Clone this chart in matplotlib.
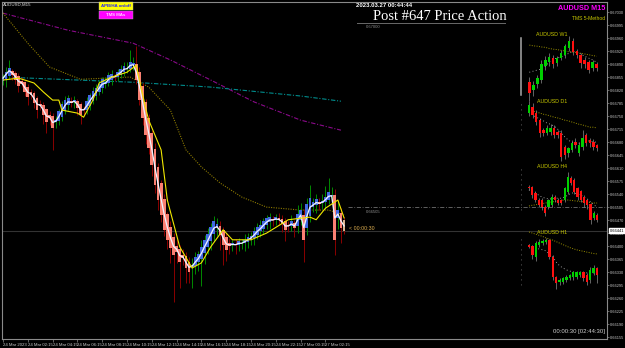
import numpy as np
import pandas as pd
import matplotlib
matplotlib.use("Agg")
import matplotlib.pyplot as plt
from matplotlib.patches import Rectangle
import matplotlib.transforms as mtransforms

# ---------------- main AUDUSD M15 data ----------------
first_open = 0.66845
close = [0.66852, 0.66868, 0.66879, 0.66860, 0.66847, 0.66831, 0.66836, 0.66815, 0.66801, 0.66806,
         0.66785, 0.66766, 0.66777, 0.66753, 0.66734, 0.66745, 0.66718, 0.66739, 0.66761, 0.66780,
         0.66793, 0.66798, 0.66785, 0.66793, 0.66772, 0.66753, 0.66766, 0.66788, 0.66804, 0.66815,
         0.66825, 0.66836, 0.66847, 0.66841, 0.66858, 0.66863, 0.66855, 0.66868, 0.66874, 0.66884,
         0.66879, 0.66895, 0.66890, 0.66847, 0.66793, 0.66745, 0.66699, 0.66664, 0.66618, 0.66564,
         0.66524, 0.66484, 0.66444, 0.66416, 0.66395, 0.66376, 0.66384, 0.66357, 0.66368, 0.66341,
         0.66330, 0.66349, 0.66368, 0.66376, 0.66395, 0.66416, 0.66430, 0.66449, 0.66465, 0.66457,
         0.66430, 0.66403, 0.66390, 0.66400, 0.66406, 0.66403, 0.66411, 0.66408, 0.66416, 0.66422,
         0.66427, 0.66438, 0.66449, 0.66454, 0.66465, 0.66473, 0.66476, 0.66470, 0.66476, 0.66470,
         0.66459, 0.66443, 0.66454, 0.66465, 0.66449, 0.66486, 0.66497, 0.66416, 0.66511, 0.66529,
         0.66516, 0.66524, 0.66513, 0.66521, 0.66532, 0.66543, 0.66537, 0.66416, 0.66497, 0.66449,
         0.66441]
wick_up_pts = [10, 14, 22, 8, 6, 10, 12, 6, 8, 10,
               8, 6, 12, 8, 6, 14, 10, 12, 8, 10,
               12, 8, 14, 10, 6, 8, 10, 12, 8, 14,
               10, 12, 8, 14, 10, 12, 8, 10, 14, 12,
               16, 32, 20, 50, 14, 10, 8, 12, 10, 16,
               12, 10, 14, 8, 16, 12, 20, 10, 18, 12,
               14, 20, 16, 12, 22, 14, 18, 12, 16, 20,
               14, 10, 12, 16, 10, 14, 12, 10, 16, 12,
               10, 14, 12, 16, 12, 10, 14, 12, 10, 16,
               12, 10, 14, 18, 12, 24, 20, 16, 18, 36,
               14, 16, 12, 18, 30, 40, 22, 18, 24, 16, 10]
wick_dn_pts = [12, 20, 8, 14, 10, 16, 8, 12, 20, 10,
               14, 20, 10, 24, 30, 18, 60, 14, 10, 12,
               8, 12, 10, 16, 20, 24, 14, 10, 12, 8,
               10, 8, 12, 10, 8, 14, 10, 12, 8, 10,
               10, 8, 12, 10, 14, 20, 24, 16, 30, 20,
               26, 20, 18, 24, 40, 126, 30, 70, 20, 40,
               30, 56, 20, 24, 75, 30, 20, 24, 18, 20,
               40, 54, 30, 20, 16, 24, 18, 14, 20, 16,
               14, 20, 12, 16, 14, 10, 18, 16, 12, 14,
               20, 30, 16, 14, 24, 18, 14, 60, 20, 16,
               14, 20, 16, 14, 18, 12, 16, 40, 30, 40, 8]

yellow_bars = [0, 5, 7, 10, 13, 16, 18, 19, 24, 26, 29, 31, 35, 40, 43, 44, 46, 47, 51, 53,
               57, 61, 64, 67, 71, 74, 80, 85, 92, 99, 101, 104, 108, 110]
yellow_ma = [0.66847, 0.66852, 0.66847, 0.66839, 0.66815, 0.66793, 0.66793, 0.66766, 0.66758, 0.66747,
             0.66793, 0.66839, 0.66855, 0.66868, 0.66887, 0.66847, 0.66772, 0.66739, 0.66659, 0.66524,
             0.66398, 0.66341, 0.66355, 0.66398, 0.66444, 0.66417, 0.66417, 0.66435, 0.66471, 0.66478,
             0.66471, 0.66502, 0.66524, 0.66476]
olive_bars = [0, 8, 15, 25, 33, 41, 47, 54, 59, 64, 70, 77, 85, 96, 105, 110]
olive_ma = [0.67027, 0.66946, 0.66882, 0.66849, 0.66852, 0.66855, 0.66828, 0.66766, 0.66659, 0.66613,
            0.66570, 0.66532, 0.66505, 0.66497, 0.66497, 0.66484]
purple_bars = [0, 21, 42, 54, 67, 81, 96, 109]
purple_ma = [0.67027, 0.66981, 0.66946, 0.66901, 0.66847, 0.66788, 0.66739, 0.66712]
teal_bars = [0, 42, 67, 96, 109]
teal_ma = [0.66855, 0.66841, 0.66828, 0.66804, 0.66790]

time_tick_bars = [0, 8, 16, 24, 32, 40, 48, 56, 64, 72, 80, 88, 96, 104]
time_tick_labels = ["24 Mar 2023", "24 Mar 02:15", "24 Mar 04:15", "24 Mar 06:15", "24 Mar 08:15",
                    "24 Mar 10:15", "24 Mar 12:15", "24 Mar 14:15", "24 Mar 16:15", "24 Mar 18:15",
                    "24 Mar 20:15", "24 Mar 22:15", "27 Mar 00:15", "27 Mar 02:15"]
price_ticks = [0.67030, 0.66995, 0.66960, 0.66925, 0.66890, 0.66855, 0.66820, 0.66785, 0.66750,
               0.66715, 0.66680, 0.66645, 0.66610, 0.66575, 0.66540, 0.66505, 0.66470, 0.66435,
               0.66400, 0.66365, 0.66330, 0.66295, 0.66260, 0.66225, 0.66190, 0.66155]
level_top = 0.67000
level_mid = 0.66505

# ---------------- mini charts (W1, D1, H4, H1) ----------------
w1_open = [0.66841, 0.66820, 0.66836, 0.66847, 0.66884, 0.66895, 0.66906, 0.66893, 0.66906, 0.66914,
           0.66933, 0.66952, 0.66925, 0.66914, 0.66901, 0.66895, 0.66879, 0.66890]
w1_close = [0.66812, 0.66833, 0.66852, 0.66890, 0.66901, 0.66909, 0.66890, 0.66906, 0.66919, 0.66938,
            0.66952, 0.66922, 0.66914, 0.66893, 0.66890, 0.66874, 0.66895, 0.66879]
w1_high = [0.66855, 0.66845, 0.66860, 0.66900, 0.66912, 0.66920, 0.66915, 0.66912, 0.66928, 0.66945,
           0.66965, 0.66960, 0.66930, 0.66920, 0.66908, 0.66900, 0.66900, 0.66895]
w1_low = [0.66790, 0.66805, 0.66825, 0.66838, 0.66875, 0.66885, 0.66880, 0.66885, 0.66900, 0.66905,
          0.66925, 0.66915, 0.66905, 0.66880, 0.66880, 0.66865, 0.66870, 0.66870]
w1_slow = [0.66941, 0.66939, 0.66938, 0.66936, 0.66935, 0.66932, 0.66930, 0.66929, 0.66927, 0.66925,
           0.66923, 0.66922, 0.66921, 0.66919, 0.66917, 0.66915, 0.66913, 0.66911]
w1_fast = [0.66868, 0.66871, 0.66874, 0.66876, 0.66884, 0.66895, 0.66903, 0.66906, 0.66909, 0.66914,
           0.66919, 0.66925, 0.66922, 0.66917, 0.66911, 0.66906, 0.66901, 0.66895]

d1_open = [0.66758, 0.66774, 0.66758, 0.66739, 0.66712, 0.66704, 0.66707, 0.66718, 0.66707, 0.66704,
           0.66667, 0.66650, 0.66659, 0.66680, 0.66650, 0.66667, 0.66699, 0.66685, 0.66680, 0.66672]
d1_close = [0.66780, 0.66753, 0.66734, 0.66704, 0.66704, 0.66718, 0.66718, 0.66699, 0.66699, 0.66640,
            0.66645, 0.66664, 0.66677, 0.66672, 0.66672, 0.66691, 0.66677, 0.66677, 0.66667, 0.66664]
d1_high = [0.66790, 0.66785, 0.66765, 0.66745, 0.66718, 0.66725, 0.66728, 0.66725, 0.66712, 0.66712,
           0.66672, 0.66668, 0.66685, 0.66690, 0.66680, 0.66712, 0.66705, 0.66690, 0.66688, 0.66675]
d1_low = [0.66750, 0.66745, 0.66725, 0.66695, 0.66696, 0.66698, 0.66700, 0.66690, 0.66692, 0.66630,
          0.66635, 0.66640, 0.66652, 0.66665, 0.66642, 0.66660, 0.66670, 0.66668, 0.66658, 0.66655]
d1_slow = [0.66766, 0.66763, 0.66761, 0.66758, 0.66755, 0.66753, 0.66750, 0.66747, 0.66745, 0.66742,
           0.66739, 0.66737, 0.66734, 0.66731, 0.66728, 0.66726, 0.66723, 0.66720, 0.66720, 0.66718]
d1_fast = [0.66761, 0.66753, 0.66747, 0.66742, 0.66737, 0.66731, 0.66728, 0.66723, 0.66715, 0.66704,
           0.66694, 0.66685, 0.66680, 0.66677, 0.66677, 0.66680, 0.66683, 0.66683, 0.66680, 0.66680]

h4_open = [0.66559, 0.66559, 0.66543, 0.66524, 0.66524, 0.66505, 0.66505, 0.66511, 0.66532, 0.66524,
           0.66524, 0.66524, 0.66546, 0.66583, 0.66578, 0.66556, 0.66546, 0.66532, 0.66524, 0.66511,
           0.66476, 0.66484]
h4_close = [0.66556, 0.66537, 0.66524, 0.66511, 0.66505, 0.66489, 0.66524, 0.66532, 0.66524, 0.66516,
            0.66516, 0.66556, 0.66586, 0.66570, 0.66546, 0.66532, 0.66524, 0.66516, 0.66511, 0.66471,
            0.66489, 0.66471]
h4_high = [0.66565, 0.66562, 0.66548, 0.66530, 0.66530, 0.66510, 0.66528, 0.66540, 0.66538, 0.66530,
           0.66528, 0.66560, 0.66600, 0.66590, 0.66582, 0.66560, 0.66550, 0.66538, 0.66528, 0.66515,
           0.66495, 0.66490]
h4_low = [0.66550, 0.66530, 0.66518, 0.66505, 0.66498, 0.66480, 0.66500, 0.66505, 0.66518, 0.66510,
          0.66510, 0.66518, 0.66540, 0.66565, 0.66540, 0.66525, 0.66518, 0.66505, 0.66500, 0.66460,
          0.66470, 0.66465]
h4_slow = [0.66508, 0.66510, 0.66511, 0.66513, 0.66514, 0.66516, 0.66517, 0.66519, 0.66520, 0.66522,
           0.66523, 0.66524, 0.66524, 0.66523, 0.66522, 0.66521, 0.66520, 0.66519, 0.66518, 0.66517,
           0.66516, 0.66516]
h4_fast = [0.66551, 0.66548, 0.66543, 0.66537, 0.66532, 0.66529, 0.66527, 0.66527, 0.66529, 0.66529,
           0.66529, 0.66532, 0.66537, 0.66543, 0.66543, 0.66540, 0.66537, 0.66532, 0.66527, 0.66519,
           0.66511, 0.66505]

h1_open = [0.66401, 0.66398, 0.66371, 0.66403, 0.66408, 0.66411, 0.66416, 0.66371, 0.66317, 0.66303,
           0.66303, 0.66309, 0.66314, 0.66317, 0.66317, 0.66322, 0.66328, 0.66322, 0.66309, 0.66328,
           0.66341]
h1_close = [0.66398, 0.66376, 0.66408, 0.66411, 0.66414, 0.66416, 0.66371, 0.66317, 0.66301, 0.66309,
            0.66314, 0.66317, 0.66322, 0.66328, 0.66328, 0.66328, 0.66314, 0.66303, 0.66336, 0.66341,
            0.66322]
h1_high = [0.66405, 0.66402, 0.66414, 0.66418, 0.66420, 0.66422, 0.66420, 0.66375, 0.66320, 0.66315,
           0.66318, 0.66322, 0.66326, 0.66332, 0.66334, 0.66332, 0.66334, 0.66328, 0.66345, 0.66350,
           0.66345]
h1_low = [0.66395, 0.66365, 0.66360, 0.66398, 0.66404, 0.66406, 0.66365, 0.66310, 0.66285, 0.66295,
          0.66298, 0.66303, 0.66308, 0.66310, 0.66312, 0.66318, 0.66305, 0.66295, 0.66300, 0.66322,
          0.66300]
h1_slow = [0.66438, 0.66435, 0.66432, 0.66429, 0.66426, 0.66422, 0.66419, 0.66416, 0.66412, 0.66408,
           0.66404, 0.66400, 0.66396, 0.66393, 0.66390, 0.66388, 0.66386, 0.66384, 0.66382, 0.66380,
           0.66379]
h1_fast = [0.66403, 0.66400, 0.66395, 0.66392, 0.66390, 0.66387, 0.66379, 0.66371, 0.66357, 0.66347,
           0.66341, 0.66336, 0.66333, 0.66330, 0.66328, 0.66328, 0.66328, 0.66328, 0.66328, 0.66328,
           0.66328]

# ---------------- figure ----------------
W, H = 625, 348
fig = plt.figure(figsize=(W / 100, H / 100), dpi=100, facecolor="black")
SANS = "Liberation Sans"

ax_left, ax_right, ax_top, ax_bottom = 2, 607, 2, 339
main_rect = [ax_left / W, (H - ax_bottom) / H, (ax_right - ax_left) / W, (ax_bottom - ax_top) / H]
ax = fig.add_axes(main_rect, facecolor="black")
YLIM = (0.66150, 0.67057)
ax.set_ylim(*YLIM)
ax.set_xlim(-0.32, 194.8)

close_a = np.array(close)
# Heiken-Ashi style open: midpoint of previous body
ha_open = np.empty_like(close_a)
ha_open[0] = first_open
for i in range(1, len(close_a)):
    ha_open[i] = (ha_open[i - 1] + close_a[i - 1]) / 2
high_a = np.maximum(ha_open, close_a) + np.array(wick_up_pts) * 1e-5
low_a = np.minimum(ha_open, close_a) - np.array(wick_dn_pts) * 1e-5
idx = np.arange(len(close_a))
up = close_a >= ha_open

# background long MAs
ax.plot(purple_bars, purple_ma, color="#8a0a8a", lw=0.8, ls=(0, (4, 1.5, 1, 1.5)), zorder=1)
ax.plot(teal_bars, teal_ma, color="#008c8c", lw=0.8, ls=(0, (4, 1.5, 1, 1.5)), zorder=1)
ax.plot(olive_bars, olive_ma, color="#8c7a00", lw=0.8, ls=(0, (1, 1.2)), zorder=1)

# levels
ax.axhline(close_a[-1], color="#333333", lw=0.8, zorder=0.5)
ax.axhline(level_top, xmin=(357 - ax_left) / (ax_right - ax_left), xmax=(505 - ax_left) / (ax_right - ax_left),
           color="#6a6a6a", lw=0.7, zorder=0.5)
ax.axhline(level_mid, xmin=(348 - ax_left) / (ax_right - ax_left), xmax=1.0,
           color="#707070", lw=0.6, ls=(0, (5, 2, 1, 2)), zorder=0.5)

# candles
wick_col = np.where(up, "#008a00", "#8b0000")
ax.vlines(idx, low_a, high_a, colors=wick_col, lw=0.7, zorder=2)
body_col = np.where(up, "#4169e1", "#fa8072").astype(object)
body_col[-1] = "#d8b08a"
ax.bar(idx, np.abs(close_a - ha_open) + 0.000015, bottom=np.minimum(ha_open, close_a), width=0.9,
       color=list(body_col), linewidth=0, zorder=3)

# fast & medium MAs
white_line = pd.Series(close_a).ewm(span=3).mean().values
ax.plot(idx, white_line, color="#eef2ff", lw=0.95, zorder=4)
ax.plot(yellow_bars, yellow_ma, color="#f0e800", lw=0.8, zorder=4)

# axes styling
for s in ax.spines.values():
    s.set_color("#8a8a8a")
    s.set_linewidth(0.8)
ax.yaxis.tick_right()
ax.set_yticks(price_ticks)
ax.set_yticklabels([f"{p:.5f}" for p in price_ticks])
ax.set_xticks(time_tick_bars)
ax.set_xticklabels(time_tick_labels)
for lab in ax.get_xticklabels():
    lab.set_horizontalalignment("left")
ax.tick_params(axis="x", colors="#8a8a8a", labelcolor="#c8c8c8", labelsize=3.1, length=2, width=0.5, pad=1.2)
ax.tick_params(axis="y", colors="#8a8a8a", labelcolor="#c8c8c8", labelsize=2.75, length=1.5, width=0.5, pad=0.6)
for lab in ax.get_xticklabels() + ax.get_yticklabels():
    lab.set_fontfamily(SANS)

# bid price box
trans = mtransforms.blended_transform_factory(ax.transAxes, ax.transData)
ax.text(1.0045, close_a[-1], f"{close_a[-1]:.5f}", transform=trans, fontsize=2.75, family=SANS,
        color="black", va="center", ha="left",
        bbox=dict(boxstyle="square,pad=0.15", fc="white", ec="white"), zorder=6, clip_on=False)

# mini charts
def mini(opens, closes, highs, lows, slow, fast):
    m = fig.add_axes([527 / W, main_rect[1], 72 / W, main_rect[3]], facecolor="none")
    m.set_ylim(*YLIM)
    n = len(opens)
    m.set_xlim(-0.6, n - 0.4)
    m.axis("off")
    o = np.array(opens); c = np.array(closes)
    k = np.arange(n)
    m.vlines(k, lows, highs, colors="#8c8c8c", lw=0.5, zorder=2)
    cols = np.where(c >= o, "#00d000", "#ff1010")
    m.bar(k, np.abs(c - o) + 0.00001, bottom=np.minimum(o, c), width=0.68, color=list(cols), lw=0, zorder=3)
    m.plot(k, slow, color="#9a9000", lw=0.7, ls=(0, (1, 1.5)), zorder=1)
    m.plot(k, fast, color="#c8c8c8", lw=0.6, ls=(0, (1, 3)), zorder=1)

mini(w1_open, w1_close, w1_high, w1_low, w1_slow, w1_fast)
mini(d1_open, d1_close, d1_high, d1_low, d1_slow, d1_fast)
mini(h4_open, h4_close, h4_high, h4_low, h4_slow, h4_fast)
mini(h1_open, h1_close, h1_high, h1_low, h1_slow, h1_fast)

# overlay for texts (pixel coordinates)
ov = fig.add_axes([0, 0, 1, 1], facecolor="none")
ov.set_xlim(0, W)
ov.set_ylim(H, 0)
ov.axis("off")

ov.text(3, 4.5, "AUDUSD,M15", fontsize=3.2, family=SANS, color="#e0e0e0", va="center", ha="left")
ov.add_patch(Rectangle((99, 2), 34, 8, fc="#ffff00", ec="#b0b0b0", lw=0.3))
ov.text(116, 6, "APB/HA on/off", fontsize=3.2, family=SANS, weight="bold", color="#2020ff", ha="center", va="center")
ov.add_patch(Rectangle((99, 11), 34, 8, fc="#ff00ff", ec="#b0b0b0", lw=0.3))
ov.text(116, 15, "TMS MAs", fontsize=3.2, family=SANS, weight="bold", color="#ffd8ff", ha="center", va="center")

ov.text(356, 5.5, "2023.03.27 00:44:44", fontsize=4.3, family=SANS, weight="bold", color="white", ha="left", va="center")
ov.text(373, 16, "Post #647 Price Action", fontsize=10.5, family="Liberation Serif", color="white", ha="left", va="center")
ov.text(605, 8, "AUDUSD M15", fontsize=5.2, family=SANS, weight="bold", color="#ff00ff", ha="right", va="center")
ov.text(605, 18, "TMS 5-Method", fontsize=3.6, family=SANS, color="#c8c800", ha="right", va="center")
ov.text(366, 27, f"{level_top:.5f}", fontsize=3.0, family=SANS, color="#909090", ha="left", va="center")
ov.text(366, 212, f"{level_mid:.5f}", fontsize=3.0, family=SANS, color="#909090", ha="left", va="center")

for title, ty in [("AUDUSD W1", 35), ("AUDUSD D1", 101.5), ("AUDUSD H4", 167), ("AUDUSD H1", 233)]:
    ov.text(552, ty, title, fontsize=3.8, family=SANS, color="#c8c800", ha="center", va="center")

ov.plot([521, 521], [38, 95], color="#a8a8a8", lw=1.1)
for y0, y1 in [(104, 131), (169, 211), (239, 288)]:
    ov.plot([521, 521], [y0, y1], color="#808080", lw=0.6, ls=(0, (1, 5)))

ov.text(349, 229, "< 00:00:30", fontsize=3.8, family=SANS, color="#e0b050", ha="left", va="center")
ov.text(605, 331, "00:00:30 [02:44:30]", fontsize=4.3, family=SANS, color="#d0d0d0", ha="right", va="center")

fig.savefig("out.png", dpi=100, facecolor="black")
